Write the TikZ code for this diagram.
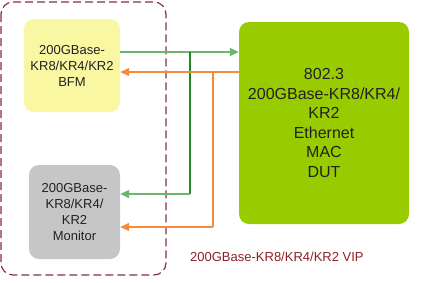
\documentclass[tikz,border=0pt]{standalone}
\usepackage{fontspec}
\setmainfont{Liberation Sans}
\usetikzlibrary{arrows.meta}
\definecolor{dashred}{HTML}{8B2E3A}
\definecolor{viptxt}{HTML}{8B2025}
\definecolor{bfmfill}{HTML}{FAF7A2}
\definecolor{monfill}{HTML}{C6C6C6}
\definecolor{dutfill}{HTML}{99CC00}
\definecolor{lgreen}{HTML}{6DB56D}
\definecolor{dgreen}{HTML}{1E8C1E}
\definecolor{orng}{HTML}{F58A3C}
\definecolor{txt}{HTML}{222222}
\begin{document}
\begin{tikzpicture}[x=1pt,y=-1pt,
  blk/.style={draw=none,rounded corners=10pt,inner sep=0pt,align=center,text=txt},
  small/.style={font=\fontsize{13}{16}\selectfont},
  big/.style={font=\fontsize{16}{19.6}\selectfont},
  garrow/.style={-{Triangle[length=9pt,width=8pt]},line width=1.3pt},
  oarrow/.style={-{Triangle[length=9pt,width=8pt]},line width=1.3pt,draw=orng,color=orng}
]
\useasboundingbox (0,0) rectangle (426,282);
\draw[dashred,dash pattern=on 8pt off 4pt,line width=1.2pt,rounded corners=12pt] (1,2) rectangle (166,275);
\node[blk,small,fill=bfmfill,minimum width=96pt,minimum height=93pt] (bfm) at (72,65.5) {200GBase-\\KR8/KR4/KR2\\BFM};
\node[blk,small,fill=monfill,minimum width=91pt,minimum height=94pt] (mon) at (74.5,212) {200GBase-\\KR8/KR4/\\KR2\\Monitor};
\node[blk,big,fill=dutfill,minimum width=170pt,minimum height=202pt] (dut) at (324,123) {802.3\\200GBase-KR8/KR4/\\KR2\\Ethernet\\MAC\\DUT};
\node[small,text=viptxt,anchor=west,inner sep=0pt] (vip) at (190,257) {200GBase-KR8/KR4/KR2 VIP};
% green
\coordinate (g1) at (190,52);
\coordinate (g2) at (190,194);
\draw[lgreen,line width=1.3pt] (bfm.east |- g1) -- (g1);
\draw[garrow,draw=lgreen,fill=dgreen] (g1) -- (dut.west |- g1);
\draw[dgreen,line width=1.3pt] (g1) -- (g2);
\draw[garrow,draw=lgreen,fill=dgreen] (g2) -- (mon.east |- g2);
% orange
\coordinate (o1) at (213,72);
\coordinate (o2) at (213,227);
\draw[oarrow] (dut.west |- o1) -- (bfm.east |- o1);
\draw[orng,line width=1.3pt] (o1) -- (o2);
\draw[oarrow] (o2) -- (mon.east |- o2);
\end{tikzpicture}
\end{document}
